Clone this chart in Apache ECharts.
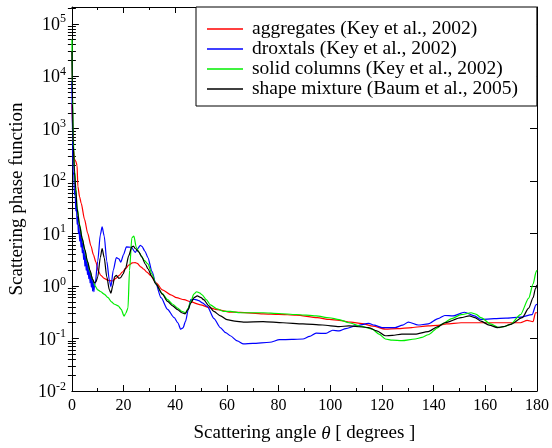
<!DOCTYPE html>
<html><head><meta charset="utf-8">
<script src="https://cdn.jsdelivr.net/npm/echarts@6/dist/echarts.min.js"></script>
<style>html,body{margin:0;padding:0;background:#fff}#c{width:552px;height:448px}</style>
</head><body><div id="c"></div>
<script>
// ---- data ----
const seriesNames = ['aggregates (Key et al., 2002)', 'droxtals (Key et al., 2002)', 'solid columns (Key et al., 2002)', 'shape mixture (Baum et al., 2005)'];
const seriesColors = ['#ff0000', '#0000ff', '#00ee00', '#000000'];
const xTickLabels = [0, 20, 40, 60, 80, 100, 120, 140, 160, 180];
const yDecades = [-2, -1, 0, 1, 2, 3, 4, 5];
const yMinorMultipliers = [2, 3, 4, 5, 6, 7, 8, 9];

const aggAngle = [0, 0.3, 0.6, 1, 1.5, 2, 2.3, 3, 3.6, 4.9, 6.1, 7.4, 8.3, 9.3, 10.2, 11.2, 12.5, 13.8, 15.7, 17, 18.3, 19.5, 20.8, 22, 23.4, 24.5, 25.3, 26.8, 27.8, 29, 30.4, 32.6, 35, 38.3, 40.5, 43.4, 46, 49.8, 53, 56.2, 61.3, 65.1, 74, 80, 86.8, 95, 99.6, 103.4, 108, 112.3, 116.5, 121.3, 126, 131.5, 137.9, 141.7, 145, 150.6, 155, 163.4, 170, 173.6, 176.2, 178.5, 179.4, 180];
const aggValue = [3000, 1000, 400, 260, 240, 200, 80, 50, 37.7, 18.7, 10.2, 5.8, 4.0, 2.85, 1.95, 1.6, 1.4, 1.3, 1.25, 1.4, 1.6, 1.85, 2.17, 2.5, 2.77, 2.8, 2.7, 2.3, 2.1, 1.85, 1.6, 1.15, 0.85, 0.68, 0.6, 0.55, 0.5, 0.44, 0.39, 0.356, 0.32, 0.315, 0.296, 0.29, 0.279, 0.25, 0.231, 0.222, 0.205, 0.192, 0.172, 0.151, 0.155, 0.162, 0.174, 0.179, 0.19, 0.2, 0.2, 0.2, 0.2, 0.2, 0.222, 0.21, 0.31, 0.31];

const droxAngle = [0, 0.25, 0.5, 0.75, 1, 1.25, 1.5, 1.75, 2, 2.25, 2.5, 2.75, 3, 3.25, 3.5, 3.75, 4, 4.25, 4.5, 4.75, 5, 5.25, 5.5, 5.75, 6, 6.25, 6.5, 6.75, 7, 7.25, 7.5, 7.75, 8, 8.25, 8.5, 8.75, 9, 10, 11, 11.7, 12.5, 13.5, 14.5, 15.1, 16, 17.2, 18.2, 18.9, 20, 21.1, 23, 24.5, 25.5, 26.5, 27.1, 28.3, 29.4, 31, 32.5, 34.5, 37, 39.6, 41, 42.1, 43, 44, 45, 46, 47.5, 49.1, 50.5, 52.4, 55, 57.4, 59.5, 61.3, 64, 66.4, 70, 76.6, 80.4, 85, 89.4, 92, 94.5, 98.3, 100.9, 103.4, 106, 109.8, 114.9, 117, 120, 125.1, 128, 130.2, 134, 137.9, 141.7, 144.3, 147.5, 151.9, 155.8, 158.3, 163.4, 168, 173.6, 178.1, 179.6, 180];
const droxValue = [8000, 600, 150, 130, 55, 65, 27, 37, 15, 21, 10, 14.5, 7.2, 10.8, 5.5, 8.3, 4.3, 6.6, 3.2, 4.8, 2.4, 3.8, 2.0, 3.2, 1.65, 2.6, 1.38, 2.2, 1.15, 1.8, 0.95, 1.5, 0.8, 1.25, 0.78, 1.0, 1.1, 3.0, 9.5, 13.4, 9, 3, 1.3, 0.97, 2.0, 3.5, 3.3, 2.85, 4.0, 5.6, 5.5, 4.4, 5.2, 6.0, 5.7, 4.6, 3.5, 1.9, 1.1, 0.6, 0.36, 0.25, 0.2, 0.151, 0.16, 0.215, 0.35, 0.55, 0.56, 0.53, 0.48, 0.41, 0.24, 0.162, 0.13, 0.113, 0.09, 0.079, 0.081, 0.085, 0.095, 0.096, 0.098, 0.11, 0.127, 0.125, 0.144, 0.14, 0.155, 0.174, 0.195, 0.18, 0.162, 0.162, 0.18, 0.206, 0.181, 0.19, 0.239, 0.275, 0.27, 0.317, 0.27, 0.231, 0.24, 0.245, 0.256, 0.285, 0.44, 0.45];

const colAngle = [0, 0.25, 0.5, 1, 1.5, 2, 3, 4, 5, 6, 7, 8, 9, 10, 11.2, 12.5, 14, 15.3, 16.5, 17.9, 19.1, 20.2, 20.8, 21.7, 22.3, 23.2, 24, 24.9, 26, 26.8, 28, 29.4, 31, 32.5, 35, 37, 39, 40.9, 42.5, 44, 45, 46, 47.2, 48.3, 49.4, 50.4, 52, 53.6, 56, 58.7, 61.3, 65.1, 70, 74, 80, 86.8, 94.5, 99.6, 103.4, 107.2, 112, 116.2, 119, 121.3, 124, 127.7, 132.8, 135.5, 137.9, 141.7, 143, 147, 150.6, 154.5, 156.5, 158.3, 162, 165.3, 167.5, 169.8, 173.6, 176.8, 178.5, 179.7, 180];
const colValue = [50000, 5000, 700, 170, 75, 32, 15, 8, 4.8, 2.9, 1.9, 1.35, 1.0, 0.85, 0.78, 0.7, 0.6, 0.5, 0.45, 0.42, 0.36, 0.267, 0.3, 0.38, 2.0, 8.3, 9.0, 5.5, 4.4, 3.8, 3.1, 2.66, 1.7, 1.1, 0.72, 0.55, 0.45, 0.38, 0.33, 0.31, 0.38, 0.51, 0.7, 0.78, 0.74, 0.68, 0.55, 0.44, 0.37, 0.33, 0.33, 0.31, 0.31, 0.31, 0.3, 0.287, 0.27, 0.249, 0.23, 0.2, 0.17, 0.151, 0.12, 0.098, 0.093, 0.091, 0.098, 0.105, 0.118, 0.162, 0.187, 0.24, 0.285, 0.31, 0.29, 0.25, 0.19, 0.162, 0.17, 0.187, 0.285, 0.59, 1.1, 1.9, 2.0];

const mixAngle = [0, 0.25, 0.5, 1, 1.5, 2, 3, 4, 5, 6, 7, 8, 8.7, 9.3, 10, 11, 11.7, 12.5, 13.5, 14.5, 15.1, 15.8, 16.5, 17.2, 18.2, 18.9, 19.8, 20.8, 22, 23.2, 23.8, 24.5, 25.9, 27, 28.5, 29.4, 31, 32.5, 35, 37, 39, 40.9, 42.5, 43.8, 45, 46, 47.3, 48.5, 50, 51, 53, 54.9, 57.5, 60, 63, 66.4, 74, 81.7, 89.4, 97, 103.4, 107.2, 114.9, 118, 121.3, 124, 127.7, 132.8, 137.9, 141.7, 144.3, 150.6, 153.8, 156, 158.3, 161.5, 164.7, 167, 169.8, 174.3, 176.8, 178.5, 179.4, 180];
const mixValue = [30000, 3000, 500, 150, 70, 30, 14, 8, 5, 3, 2, 1.35, 1.15, 1.2, 1.5, 3.5, 5.2, 3.5, 1.5, 0.85, 0.73, 1.0, 1.5, 1.6, 1.4, 1.45, 1.7, 2.2, 3.8, 5.6, 5.8, 5.2, 4.5, 3.6, 2.6, 2.14, 1.5, 1.1, 0.7, 0.51, 0.42, 0.356, 0.31, 0.296, 0.36, 0.475, 0.6, 0.65, 0.6, 0.55, 0.42, 0.33, 0.27, 0.23, 0.215, 0.206, 0.21, 0.2, 0.19, 0.181, 0.169, 0.174, 0.162, 0.14, 0.113, 0.115, 0.121, 0.121, 0.136, 0.169, 0.2, 0.25, 0.27, 0.25, 0.215, 0.18, 0.162, 0.168, 0.187, 0.25, 0.38, 0.6, 0.9, 1.05];

// ---- build ----
const FONT = "'Liberation Serif', 'Times New Roman', serif";
const angleSets = [aggAngle, droxAngle, colAngle, mixAngle];
const valueSets = [aggValue, droxValue, colValue, mixValue];
const yMinor = [];
yDecades.forEach(d => yMinorMultipliers.forEach(m => { const v = d + Math.log10(m); if (v < 5.32) yMinor.push(v); }));

const yBase = {
  type: 'value', min: -2, max: 5.32, splitLine: { show: false },
  axisLine: { show: true, onZero: false, lineStyle: { color: '#000', width: 1 } }
};
const xBase = {
  type: 'value', min: 0, max: 180, interval: 20, splitLine: { show: false },
  axisLine: { show: true, onZero: false, lineStyle: { color: '#000', width: 1 } },
  axisTick: { show: true, inside: true, length: 6, lineStyle: { color: '#000' } },
  minorTick: { show: true, splitNumber: 2, length: 3, lineStyle: { color: '#000' } }
};

const option = {
  backgroundColor: '#fff',
  animation: false,
  textStyle: { fontFamily: FONT, color: '#000' },
  grid: { left: 70, right: 12, top: 7, bottom: 50, containLabel: false },
  xAxis: [
    Object.assign({}, xBase, {
      position: 'bottom',
      axisLabel: { show: true, fontFamily: FONT, fontSize: 16, color: '#000', margin: 7,
        customValues: xTickLabels },
      name: '{n|Scattering angle }{i|θ}{n| [ degrees ]}',
      nameLocation: 'middle', nameGap: 33,
      nameTextStyle: { fontFamily: FONT, rich: {
        n: { fontFamily: FONT, fontSize: 19, color: '#000' },
        i: { fontFamily: FONT, fontSize: 19, fontStyle: 'italic', color: '#000' } } }
    }),
    Object.assign({}, xBase, { position: 'top', axisLabel: { show: false } })
  ],
  yAxis: [
    Object.assign({}, yBase, {
      position: 'left',
      axisTick: { show: true, inside: true, length: 7, customValues: yDecades, lineStyle: { color: '#000' } },
      axisLabel: { show: true, margin: 6, customValues: yDecades, fontFamily: FONT,
        formatter: v => '{b|10}{s|' + Math.round(v) + '}',
        rich: {
          b: { fontFamily: FONT, fontSize: 18, color: '#000', verticalAlign: 'bottom' },
          s: { fontFamily: FONT, fontSize: 12, color: '#000', verticalAlign: 'bottom', padding: [0, 0, 9, 0] }
        } },
      name: 'Scattering phase function', nameLocation: 'middle', nameGap: 44,
      nameTextStyle: { fontFamily: FONT, fontSize: 19, color: '#000' }
    }),
    Object.assign({}, yBase, {
      position: 'left', axisLine: { show: false },
      axisTick: { show: true, inside: true, length: 4, customValues: yMinor, lineStyle: { color: '#000' } },
      axisLabel: { show: false }
    }),
    Object.assign({}, yBase, {
      position: 'right',
      axisTick: { show: true, inside: true, length: 7, customValues: yDecades, lineStyle: { color: '#000' } },
      axisLabel: { show: false }
    }),
    Object.assign({}, yBase, {
      position: 'right', axisLine: { show: false },
      axisTick: { show: true, inside: true, length: 4, customValues: yMinor, lineStyle: { color: '#000' } },
      axisLabel: { show: false }
    })
  ],
  legend: {
    show: true, orient: 'vertical', left: 196, top: 7,
    padding: [12, 19, 7, 11], itemGap: 0, itemWidth: 36, itemHeight: 1.3,
    icon: 'rect',
    borderColor: '#000', borderWidth: 1, backgroundColor: '#fff',
    data: seriesNames,
    textStyle: { fontFamily: FONT, fontSize: 19.5, color: '#000', lineHeight: 18.6, padding: [0, 0, 0, 4] }
  },
  series: seriesNames.map((name, i) => ({
    name: name, type: 'line', xAxisIndex: 0, yAxisIndex: 0,
    symbol: 'none', showSymbol: false, smooth: 0.25, smoothMonotone: 'x', clip: true,
    lineStyle: { color: seriesColors[i], width: 1.2 },
    itemStyle: { color: seriesColors[i] },
    data: angleSets[i].map((a, k) => [a, Math.log10(valueSets[i][k])])
  }))
};

const chart = echarts.init(document.getElementById('c'), null, { renderer: 'canvas' });
chart.setOption(option);
</script>
</body></html>
